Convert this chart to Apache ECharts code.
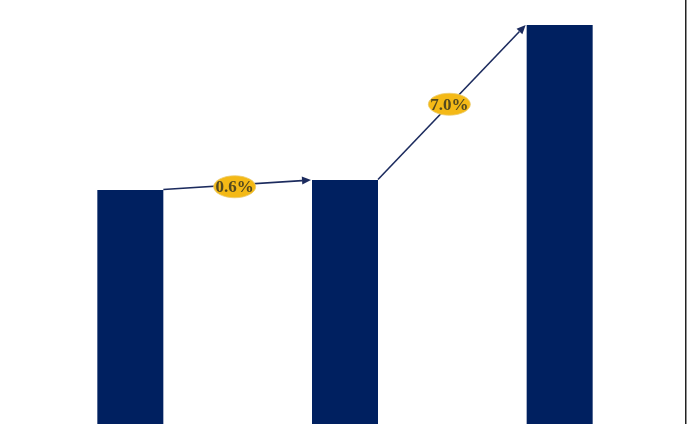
<!DOCTYPE html>
<html>
<head>
<meta charset="utf-8">
<script src="https://cdn.jsdelivr.net/npm/echarts@6/dist/echarts.min.js"></script>
<style>
  html, body { margin: 0; padding: 0; background: #ffffff; }
  #chart { width: 688px; height: 424px; }
</style>
</head>
<body>
<div id="chart"></div>
<script>
// ---- data ----
const categories = ['Period 1', 'Period 2', 'Period 3'];
const values = [23.4, 24.4, 39.9];
const growthLabels = ['0.6%', '7.0%'];

// ---- style constants ----
const BAR_COLOR = '#002060';
const ARROW_COLOR = '#1c2b5e';
const BADGE_COLOR = '#F4B916';
const BADGE_TEXT = '#54491f';
const BAR_WIDTH = 66;

const arrowData = growthLabels.map((label, i) => [i, values[i], values[i + 1], label]);

const chart = echarts.init(document.getElementById('chart'), null, { renderer: 'canvas' });

chart.setOption({
  animation: false,
  backgroundColor: '#ffffff',
  grid: { left: 23, right: 21, top: 0, bottom: 0 },
  xAxis: {
    type: 'category',
    data: categories,
    show: false,
    boundaryGap: true
  },
  yAxis: {
    type: 'value',
    min: 0,
    max: 42.4,
    show: false
  },
  graphic: [{
    type: 'rect',
    right: 1.5,
    top: 0,
    shape: { width: 1.5, height: 424 },
    style: { fill: '#222222' },
    silent: true
  }],
  series: [
    {
      type: 'bar',
      data: values,
      barWidth: BAR_WIDTH,
      itemStyle: { color: BAR_COLOR },
      silent: true
    },
    {
      type: 'custom',
      data: arrowData,
      encode: { x: 0, y: 1 },
      clip: false,
      silent: true,
      z: 5,
      renderItem: function (params, api) {
        const i = api.value(0);
        const p1 = api.coord([i, api.value(1)]);
        const p2 = api.coord([i + 1, api.value(2)]);
        const half = BAR_WIDTH / 2;
        const sx = p1[0] + half, sy = p1[1] - 0.5;
        const ex = p2[0] - half - 1, ey = p2[1];
        const ang = Math.atan2(ey - sy, ex - sx);
        const headLen = 9, headHalf = 4;
        const bx = ex - headLen * Math.cos(ang);
        const by = ey - headLen * Math.sin(ang);
        const nx = -Math.sin(ang), ny = Math.cos(ang);
        const mx = (sx + ex) / 2 - 2.5;
        const my = (sy + ey) / 2 + 2;
        const label = arrowData[params.dataIndex][3];
        return {
          type: 'group',
          children: [
            {
              type: 'line',
              shape: { x1: sx, y1: sy, x2: bx, y2: by },
              style: { stroke: ARROW_COLOR, lineWidth: 1.6 }
            },
            {
              type: 'polygon',
              shape: { points: [[ex, ey], [bx + nx * headHalf, by + ny * headHalf], [bx - nx * headHalf, by - ny * headHalf]] },
              style: { fill: ARROW_COLOR }
            },
            {
              type: 'ellipse',
              shape: { cx: mx, cy: my, rx: 21, ry: 11 },
              style: { fill: BADGE_COLOR, stroke: '#ebcb6e', lineWidth: 0.8 }
            },
            {
              type: 'text',
              style: {
                text: label,
                x: mx,
                y: my + 1,
                align: 'center',
                verticalAlign: 'middle',
                fill: BADGE_TEXT,
                font: 'bold 17px "Liberation Serif", "DejaVu Serif", serif'
              }
            }
          ]
        };
      }
    }
  ]
});
</script>
</body>
</html>
